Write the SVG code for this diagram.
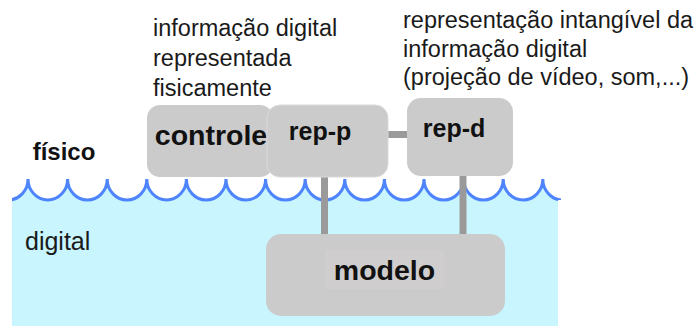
<svg xmlns="http://www.w3.org/2000/svg" width="697" height="326" viewBox="0 0 697 326">
<defs>
<style>
.box{fill:#CBCBCB;}
.lbl{font-family:"Liberation Sans",Arial,sans-serif;font-weight:bold;fill:#111;text-anchor:middle;}
.note{font-family:"Liberation Sans",Arial,sans-serif;font-size:23.5px;fill:#1a1a1a;}
.conn{stroke:#9A9A9A;stroke-width:7;fill:none;}
</style>
<clipPath id="wc"><rect x="12" y="150" width="549" height="176"/></clipPath>
</defs>
<rect width="697" height="326" fill="#fff"/>
<g id="water" clip-path="url(#wc)">
<path d="M-11.6 179 A19.8 21 0 0 0 28 179 A19.8 21 0 0 0 67.6 179 A19.8 21 0 0 0 107.2 179 A19.8 21 0 0 0 146.8 179 A19.8 21 0 0 0 186.4 179 A19.8 21 0 0 0 226 179 A19.8 21 0 0 0 265.6 179 A19.8 21 0 0 0 305.2 179 A19.8 21 0 0 0 344.8 179 A19.8 21 0 0 0 384.4 179 A19.8 21 0 0 0 424 179 A19.8 21 0 0 0 463.6 179 A19.8 21 0 0 0 503.2 179 A19.8 21 0 0 0 542.8 179 A19.8 21 0 0 0 582.4 179 L582.4 326 L-11.6 326 Z" fill="#C9F6FE"/>
<path d="M-11.6 179 A19.8 21 0 0 0 28 179 A19.8 21 0 0 0 67.6 179 A19.8 21 0 0 0 107.2 179 A19.8 21 0 0 0 146.8 179 A19.8 21 0 0 0 186.4 179 A19.8 21 0 0 0 226 179 A19.8 21 0 0 0 265.6 179 A19.8 21 0 0 0 305.2 179 A19.8 21 0 0 0 344.8 179 A19.8 21 0 0 0 384.4 179 A19.8 21 0 0 0 424 179 A19.8 21 0 0 0 463.6 179 A19.8 21 0 0 0 503.2 179 A19.8 21 0 0 0 542.8 179 A19.8 21 0 0 0 582.4 179" fill="none" stroke="#4F84FF" stroke-width="3"/>
</g>
<rect x="558" y="200" width="4" height="126" fill="#fff"/>
<text x="64" y="160" class="lbl" style="font-size:24px">físico</text>
<text x="25" y="250" style="font-family:'Liberation Sans',Arial,sans-serif;font-size:25px;fill:#1a1a1a">digital</text>
<g id="connectors">
<line class="conn" x1="386" y1="134.5" x2="410" y2="134.5"/>
<line class="conn" x1="324.5" y1="170" x2="324.5" y2="240"/>
<line class="conn" x1="463" y1="170" x2="463" y2="240"/>
</g>
<g id="controle">
<rect class="box" x="147" y="105" width="126" height="72" rx="13"/>
<text x="211" y="145" class="lbl" style="font-size:28.5px">controle</text>
</g>
<g id="rep-p">
<rect class="box" x="267" y="105" width="121" height="72" rx="13" stroke="#DADADA" stroke-width="1"/>
<text x="320" y="140" class="lbl" style="font-size:25px">rep-p</text>
</g>
<g id="rep-d">
<rect class="box" x="407" y="98" width="106" height="78" rx="14"/>
<text x="454" y="137" class="lbl" style="font-size:25px">rep-d</text>
</g>
<g id="modelo">
<rect class="box" x="266" y="234" width="239" height="82" rx="15"/>
<rect x="325" y="250" width="119" height="39" fill="#CFCDCE"/>
<text x="384.5" y="280" class="lbl" style="font-size:28.5px">modelo</text>
</g>
<g id="note-left">
<text class="note" x="153" y="36">informação digital</text>
<text class="note" x="153" y="66">representada</text>
<text class="note" x="153" y="96">fisicamente</text>
</g>
<g id="note-right">
<text class="note" x="403" y="28">representação intangível da</text>
<text class="note" x="403" y="56.5">informação digital</text>
<text class="note" x="403" y="85">(projeção de vídeo, som,...)</text>
</g>
</svg>
